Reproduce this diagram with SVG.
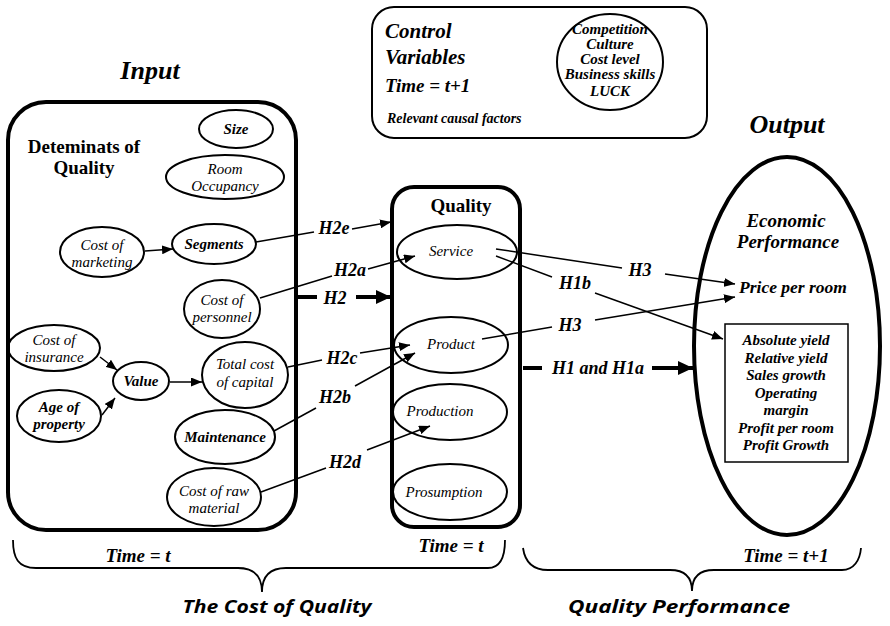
<svg xmlns="http://www.w3.org/2000/svg" width="890" height="626" viewBox="0 0 890 626">
  <style>
    .frame { fill: none; stroke: #000; stroke-width: 4; }
    .oval { fill: none; stroke: #000; stroke-width: 2; }
    .thin { fill: none; stroke: #000; stroke-width: 1.5; }
    .conn { fill: none; stroke: #000; stroke-width: 1.5; }
    .fat { fill: none; stroke: #000; stroke-width: 4; }
    .brace { fill: none; stroke: #000; stroke-width: 1.8; }
    text { font-family: "Liberation Serif", "Times New Roman", serif; fill: #000; text-anchor: middle; }
    .it { font-style: italic; font-size: 15px; }
    .bi { font-style: italic; font-weight: bold; font-size: 15px; }
    .hyp { font-style: italic; font-weight: bold; font-size: 18px; }
    .big { font-style: italic; font-weight: bold; font-size: 26px; }
    .head { font-weight: bold; font-size: 19px; }
    .time { font-style: italic; font-weight: bold; font-size: 19px; }
    .ctl { font-style: italic; font-weight: bold; font-size: 21px; text-anchor: start; }
    .small { font-style: italic; font-weight: bold; font-size: 14px; }
    .list { font-style: italic; font-weight: bold; font-size: 15px; }
    .sans { font-family: "Open Sans", "DejaVu Sans", sans-serif; font-style: italic; font-weight: bold; font-size: 18px; }
  </style>
  <defs>
    <marker id="arr" markerUnits="userSpaceOnUse" markerWidth="11" markerHeight="9" refX="11" refY="4.5" orient="auto">
      <path d="M0,0 L11,4.5 L0,9 z" fill="#000"/>
    </marker>
    <marker id="arrBig" markerUnits="userSpaceOnUse" markerWidth="15" markerHeight="14" refX="15" refY="7" orient="auto">
      <path d="M0,0 L15,7 L0,14 z" fill="#000"/>
    </marker>
  </defs>

  <rect x="0" y="0" width="890" height="626" fill="#fff"/>

  <!-- column headings -->
  <text class="big" x="150" y="79">Input</text>
  <text class="big" x="787" y="133">Output</text>

  <!-- input frame -->
  <g id="input-frame">
    <rect class="frame" x="8" y="102" width="288" height="428" rx="38" ry="38"/>
    <text class="head" x="84" y="153">Deteminats of</text>
    <text class="head" x="84" y="174">Quality</text>
  </g>

  <g id="size">
    <ellipse class="oval" cx="236" cy="129" rx="37" ry="19"/>
    <text class="bi" x="236" y="134">Size</text>
  </g>
  <g id="room-occupancy">
    <ellipse class="oval" cx="225" cy="177" rx="59" ry="22"/>
    <text class="it" x="225" y="174">Room</text>
    <text class="it" x="225" y="191">Occupancy</text>
  </g>
  <g id="cost-of-marketing">
    <ellipse class="oval" cx="102" cy="252" rx="42" ry="25"/>
    <text class="it" x="102" y="250">Cost of</text>
    <text class="it" x="102" y="267">marketing</text>
  </g>
  <g id="segments">
    <ellipse class="oval" cx="214" cy="244" rx="42" ry="20"/>
    <text class="bi" x="214" y="249">Segments</text>
  </g>
  <g id="cost-of-personnel">
    <ellipse class="oval" cx="222" cy="309" rx="38" ry="29"/>
    <text class="it" x="222" y="305">Cost of</text>
    <text class="it" x="222" y="322">personnel</text>
  </g>
  <g id="cost-of-insurance">
    <ellipse class="oval" cx="54" cy="348" rx="46" ry="23"/>
    <text class="it" x="54" y="345">Cost of</text>
    <text class="it" x="54" y="362">insurance</text>
  </g>
  <g id="value">
    <ellipse class="oval" cx="141" cy="381" rx="28" ry="19"/>
    <text class="bi" x="141" y="386">Value</text>
  </g>
  <g id="age-of-property">
    <ellipse class="oval" cx="59" cy="416" rx="42" ry="26"/>
    <text class="bi" x="59" y="412">Age of</text>
    <text class="bi" x="59" y="429">property</text>
  </g>
  <g id="total-cost-of-capital">
    <ellipse class="oval" cx="245" cy="375" rx="43" ry="33"/>
    <text class="it" x="245" y="369">Total cost</text>
    <text class="it" x="245" y="387">of capital</text>
  </g>
  <g id="maintenance">
    <ellipse class="oval" cx="225" cy="437" rx="50" ry="27"/>
    <text class="bi" x="225" y="442">Maintenance</text>
  </g>
  <g id="cost-of-raw-material">
    <ellipse class="oval" cx="214" cy="497" rx="47" ry="29"/>
    <text class="it" x="214" y="496">Cost of raw</text>
    <text class="it" x="214" y="513">material</text>
  </g>

  <!-- control variables -->
  <g id="control-variables">
    <rect class="thin" x="372" y="7" width="335" height="131" rx="22" ry="22" style="stroke-width:2"/>
    <text class="ctl" x="385" y="38">Control</text>
    <text class="ctl" x="385" y="64">Variables</text>
    <text class="time" x="385" y="92" style="text-anchor:start">Time = t+1</text>
    <text class="small" x="387" y="123" style="text-anchor:start">Relevant causal factors</text>
  </g>
  <g id="causal-factors">
    <ellipse class="oval" cx="610" cy="62" rx="53" ry="48"/>
    <text class="list" x="610" y="34">Competition</text>
    <text class="list" x="610" y="49">Culture</text>
    <text class="list" x="610" y="64">Cost level</text>
    <text class="list" x="610" y="79">Business skills</text>
    <text class="list" x="610" y="96">LUCK</text>
  </g>

  <!-- quality frame -->
  <g id="quality-frame">
    <rect class="frame" x="392" y="187" width="128" height="340" rx="22" ry="22"/>
    <text class="head" x="461" y="212">Quality</text>
  </g>
  <g id="service">
    <ellipse class="oval" cx="457" cy="252" rx="60" ry="27"/>
    <text class="it" x="451" y="256">Service</text>
  </g>
  <g id="product">
    <ellipse class="oval" cx="451" cy="345" rx="57" ry="28"/>
    <text class="it" x="451" y="349">Product</text>
  </g>
  <g id="production">
    <ellipse class="oval" cx="450" cy="412" rx="57" ry="28"/>
    <text class="it" x="440" y="416">Production</text>
  </g>
  <g id="prosumption">
    <ellipse class="oval" cx="450" cy="492" rx="57" ry="28"/>
    <text class="it" x="444" y="497">Prosumption</text>
  </g>

  <!-- economic performance -->
  <g id="economic-performance">
    <ellipse class="frame" cx="787" cy="346" rx="93" ry="189"/>
    <text class="time" x="786" y="227">Economic</text>
    <text class="time" x="788" y="248">Performance</text>
  </g>
  <g id="price-per-room">
    <text class="hyp" x="793" y="293" style="font-size:17.5px">Price per room</text>
  </g>
  <g id="yield-measures">
    <rect class="thin" x="725" y="324" width="123" height="138"/>
    <text class="list" x="786" y="345">Absolute yield</text>
    <text class="list" x="786" y="362.5">Relative yield</text>
    <text class="list" x="786" y="380">Sales growth</text>
    <text class="list" x="786" y="397.5">Operating</text>
    <text class="list" x="786" y="415">margin</text>
    <text class="list" x="786" y="432.5">Profit per room</text>
    <text class="list" x="786" y="450">Profit Growth</text>
  </g>

  <!-- connectors -->
  <g id="connectors">
    <line class="conn" x1="145" y1="251" x2="173" y2="249" marker-end="url(#arr)"/>
    <line class="conn" x1="100" y1="357" x2="117" y2="370" marker-end="url(#arr)"/>
    <line class="conn" x1="102" y1="415" x2="115" y2="398" marker-end="url(#arr)"/>
    <line class="conn" x1="170" y1="382" x2="202" y2="382" marker-end="url(#arr)"/>

    <line class="conn" x1="256" y1="242" x2="314" y2="232"/>
    <line class="conn" x1="352" y1="229" x2="391" y2="222" marker-end="url(#arr)"/>
    <text class="hyp" x="334" y="234">H2e</text>

    <line class="conn" x1="260" y1="298" x2="332" y2="276"/>
    <line class="conn" x1="368" y1="269" x2="415" y2="256" marker-end="url(#arr)"/>
    <text class="hyp" x="350" y="276">H2a</text>

    <line class="fat" x1="298" y1="297" x2="317" y2="297"/>
    <line class="fat" x1="356" y1="297" x2="391" y2="297" marker-end="url(#arrBig)"/>
    <text class="hyp" x="335" y="304">H2</text>

    <line class="conn" x1="288" y1="367" x2="322" y2="360"/>
    <line class="conn" x1="360" y1="353" x2="410" y2="345" marker-end="url(#arr)"/>
    <text class="hyp" x="342" y="364">H2c</text>

    <line class="conn" x1="274" y1="431" x2="316" y2="408"/>
    <line class="conn" x1="355" y1="386" x2="415" y2="353" marker-end="url(#arr)"/>
    <text class="hyp" x="335" y="403">H2b</text>

    <line class="conn" x1="261" y1="492" x2="326" y2="468"/>
    <line class="conn" x1="367" y1="450" x2="430" y2="426" marker-end="url(#arr)"/>
    <text class="hyp" x="345" y="468">H2d</text>

    <line class="conn" x1="496" y1="249" x2="622" y2="268"/>
    <line class="conn" x1="665" y1="274" x2="735" y2="284" marker-end="url(#arr)"/>
    <text class="hyp" x="640" y="276">H3</text>

    <line class="conn" x1="496" y1="256" x2="552" y2="277"/>
    <line class="conn" x1="595" y1="293" x2="723" y2="339" marker-end="url(#arr)"/>
    <text class="hyp" x="575" y="289">H1b</text>

    <line class="conn" x1="482" y1="339" x2="552" y2="327"/>
    <line class="conn" x1="595" y1="320" x2="735" y2="297" marker-end="url(#arr)"/>
    <text class="hyp" x="570" y="331">H3</text>

    <line class="fat" x1="523" y1="368" x2="542" y2="368"/>
    <line class="fat" x1="652" y1="368" x2="693" y2="368" marker-end="url(#arrBig)"/>
    <text class="hyp" x="598" y="374">H1 and H1a</text>
  </g>

  <!-- time labels and braces -->
  <text class="time" x="138" y="562">Time = t</text>
  <text class="time" x="451" y="552">Time = t</text>
  <text class="time" x="786" y="562">Time = t+1</text>

  <path class="brace" d="M13 540 C13 558 18 568 36 568 L238 568 C254 568 262 576 262 592 C262 576 270 568 286 568 L488 568 C500 568 505 558 505 540"/>
  <path class="brace" d="M523 548 C525 562 532 570 548 570 L670 570 C685 570 692 578 692 591 C692 578 699 570 714 570 L842 570 C854 570 860 560 861 548"/>

  <text class="sans" x="277" y="613" textLength="189" lengthAdjust="spacingAndGlyphs">The Cost of Quality</text>
  <text class="sans" x="679" y="613" textLength="222" lengthAdjust="spacingAndGlyphs">Quality Performance</text>
</svg>
